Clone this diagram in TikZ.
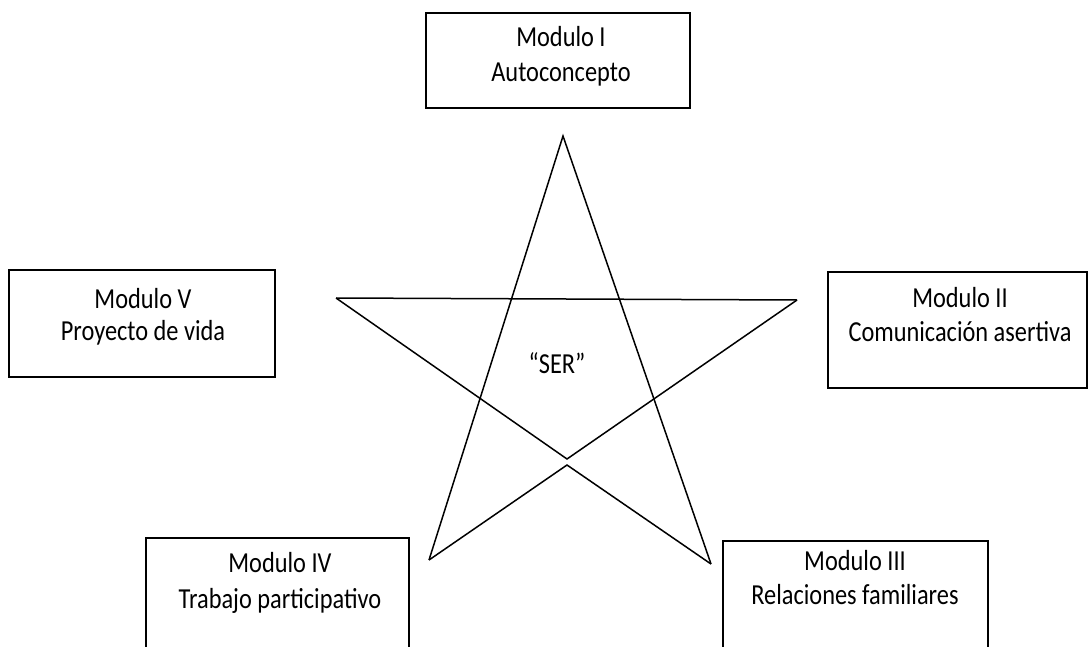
\documentclass[tikz,border=0pt]{standalone}
\usepackage{fontspec}
\setmainfont[FakeStretch=0.84]{Carlito}
\begin{document}
\begin{tikzpicture}[x=1pt,y=-1pt,
  modbox/.style={draw,line width=1.6pt},
  txt/.style={anchor=base,inner sep=0pt,font=\fontsize{29}{34}\selectfont},
  starline/.style={line width=1.5pt,line join=miter}]
\useasboundingbox (0,0) rectangle (1089,647);
\clip (0,0) rectangle (1089,647);
% boxes
\draw[modbox] (426,13) rectangle (690,108);
\node[coordinate] (m1) at (558,60) {};
\draw[modbox] (9,270) rectangle (275,377);
\node[coordinate] (m5) at (142,323) {};
\draw[modbox] (828,272) rectangle (1087,388);
\node[coordinate] (m2) at (958,330) {};
\draw[modbox] (146,538) rectangle (409,670);
\node[coordinate] (m4) at (277,600) {};
\draw[modbox] (723,541) rectangle (988,670);
\node[coordinate] (m3) at (855,600) {};
% texts
\node[txt] (t1a) at (561,47) {Modulo I};
\node[txt] (t1b) at (561,82) {Autoconcepto};
\node[txt] (t5a) at (143,308) {Modulo V};
\node[txt] (t5b) at (143,340) {Proyecto de vida};
\node[txt] (t2a) at (960,307) {Modulo II};
\node[txt] (t2b) at (960,341) {Comunicación asertiva};
\node[txt] (t4a) at (280,572) {Modulo IV};
\node[txt] (t4b) at (280,608) {Trabajo participativo};
\node[txt] (t3a) at (855,570) {Modulo III};
\node[txt] (t3b) at (855,604) {Relaciones familiares};
\node[txt] (ser) at (557,373) {“SER”};
% star
\coordinate (A) at (563,136);
\coordinate (L) at (336,298);
\coordinate (R) at (797,300);
\coordinate (BL) at (429,560);
\coordinate (BR) at (711,564);
\coordinate (Cu) at (567,459);
\coordinate (Cd) at (567,465);
\draw[starline] (BL) -- (A) -- (BR);
\draw[starline] (L) -- (R);
\draw[starline] (L) -- (Cu) -- (R);
\draw[starline] (BL) -- (Cd) -- (BR);
\end{tikzpicture}
\end{document}
